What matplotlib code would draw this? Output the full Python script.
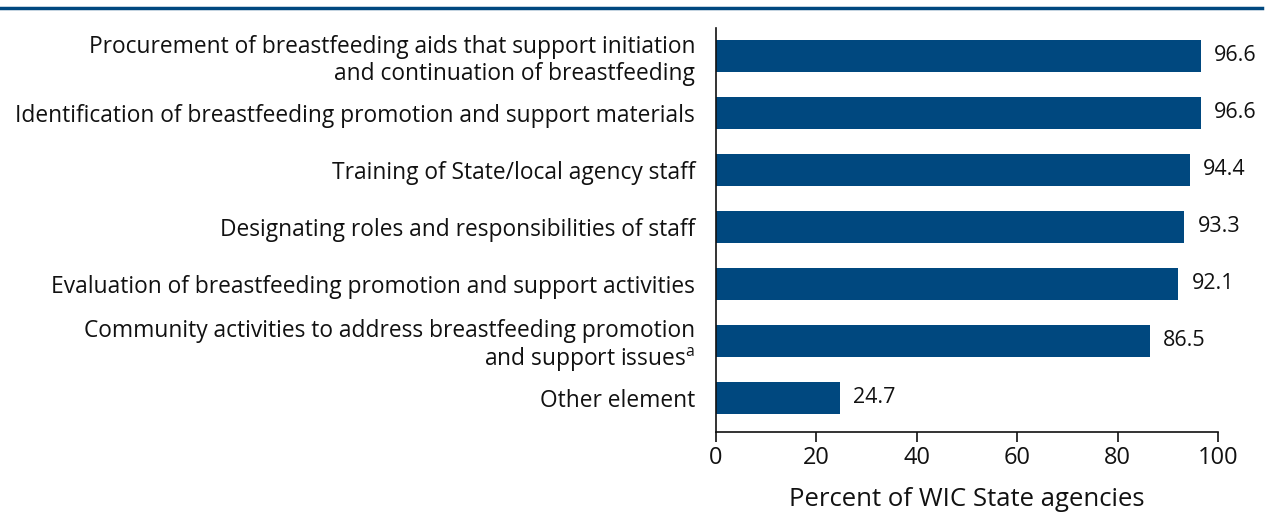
import matplotlib.pyplot as plt
from matplotlib.lines import Line2D

plt.rcParams['font.family'] = ['Open Sans', 'DejaVu Sans']
plt.rcParams['mathtext.fontset'] = 'custom'
plt.rcParams['mathtext.rm'] = 'Open Sans'

categories = [
    'Procurement of breastfeeding aids that support initiation\nand continuation of breastfeeding',
    'Identification of breastfeeding promotion and support materials',
    'Training of State/local agency staff',
    'Designating roles and responsibilities of staff',
    'Evaluation of breastfeeding promotion and support activities',
    'Community activities to address breastfeeding promotion\nand support issues$^{\\mathrm{a}}$',
    'Other element',
]
values = [96.6, 96.6, 94.4, 93.3, 92.1, 86.5, 24.7]
xticks = [0, 20, 40, 60, 80, 100]

navy = '#00487f'
ink = '#111111'

fig = plt.figure(figsize=(12.7, 5.12), dpi=100)
ax = fig.add_axes([716 / 1270, 1 - 432 / 512, 502 / 1270, 404 / 512])

pos = list(range(len(categories)))
ax.barh(pos, values, height=0.56, color=navy)
for p, v in zip(pos, values):
    ax.text(v + 2.6, p, f'{v:.1f}', va='center', ha='left', fontsize=15.5, color=ink)

ax.set_ylim(6.6, -0.49)
ax.set_xlim(0, 100)
ax.set_yticks(pos)
ax.set_yticklabels(categories, fontsize=16.4, color=ink, linespacing=1.15)
for lbl in ax.get_yticklabels():
    lbl.set_multialignment('right')
ax.tick_params(axis='y', length=0, pad=15)
ax.set_xticks(xticks)
ax.tick_params(axis='x', length=7, width=1.2, labelsize=17, pad=3, colors=ink)
ax.set_xlabel('Percent of WIC State agencies', fontsize=18.5, labelpad=12, color=ink)

for side in ['top', 'right']:
    ax.spines[side].set_visible(False)
for side in ['left', 'bottom']:
    ax.spines[side].set_linewidth(1.2)
    ax.spines[side].set_color(ink)

# rule across the top of the figure
fig.add_artist(Line2D([0, 1262 / 1270], [1 - 8 / 512, 1 - 8 / 512], color=navy, linewidth=2.5))

fig.savefig('out.png', dpi=100)
